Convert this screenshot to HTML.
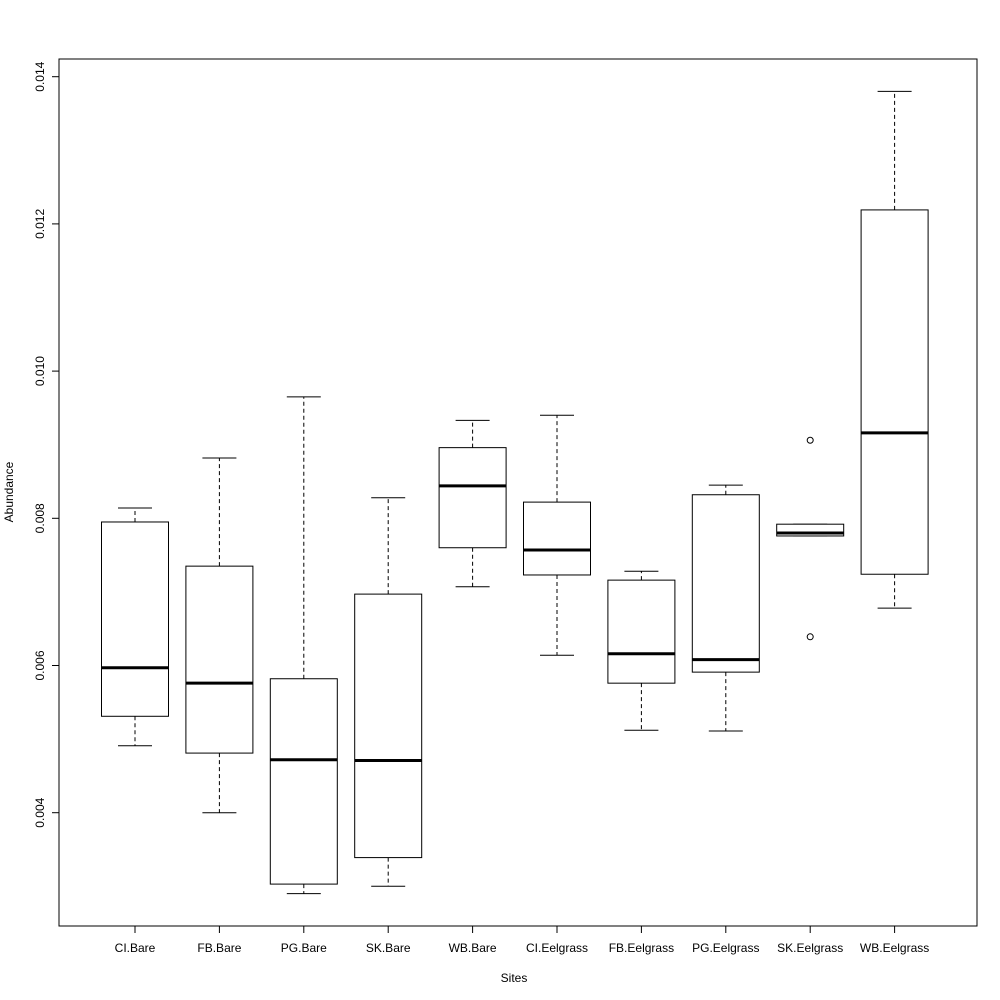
<!DOCTYPE html>
<html><head><meta charset="utf-8"><style>body{margin:0;background:#fff}svg{display:block;font-family:"Liberation Sans",Arial,sans-serif}</style></head>
<body>
<svg id="chart" width="1000" height="1000" viewBox="0 0 1000 1000"></svg>
<script>
const categories=["CI.Bare","FB.Bare","PG.Bare","SK.Bare","WB.Bare","CI.Eelgrass","FB.Eelgrass","PG.Eelgrass","SK.Eelgrass","WB.Eelgrass"];
const whiskerLow=[0.00491,0.00400,0.00290,0.00300,0.00707,0.00614,0.00512,0.00511,0.00776,0.00678];
const q1=[0.00531,0.00481,0.00303,0.00339,0.00760,0.00723,0.00576,0.00591,0.00776,0.00724];
const medians=[0.00597,0.00576,0.00472,0.00471,0.00844,0.00757,0.00616,0.00608,0.00780,0.00916];
const q3=[0.00795,0.00735,0.00582,0.00697,0.00896,0.00822,0.00716,0.00832,0.00792,0.01219];
const whiskerHigh=[0.00814,0.00882,0.00965,0.00828,0.00933,0.00940,0.00728,0.00845,0.00792,0.01380];
const outlierCat=[8,8];
const outlierVal=[0.00906,0.00639];
const yTicks=[0.004,0.006,0.008,0.010,0.012,0.014];
const yTickLabels=["0.004","0.006","0.008","0.010","0.012","0.014"];

const svg=document.getElementById('chart');
const NS='http://www.w3.org/2000/svg';
const L=59,R=977,T=59,B=926;
function y(v){return 812.7-(v-0.004)/0.002*147.2;}
function x(i){return 135+i*84.4;}
function mk(tag,attrs,name,parent){const e=document.createElementNS(NS,tag);for(const k in attrs)e.setAttribute(k,attrs[k]);


(parent||svg).appendChild(e);return e;}
mk('rect',{x:L,y:T,width:R-L,height:B-T,fill:'none',stroke:'#000','stroke-width':1},'plot-frame');
yTicks.forEach((t,i)=>{const yy=y(t);
mk('line',{x1:L-7,x2:L,y1:yy,y2:yy,stroke:'#000'},'y-tick');
const tx=mk('text',{x:44,y:yy,'font-size':12,'text-anchor':'middle',transform:`rotate(-90 44 ${yy})`},'y-tick-label');tx.textContent=yTickLabels[i];});
const yt=mk('text',{x:13,y:492,'font-size':12,'text-anchor':'middle',transform:'rotate(-90 13 492)'},'y-axis-title');yt.textContent='Abundance';
const xt=mk('text',{x:514,y:982,'font-size':12,'text-anchor':'middle'},'x-axis-title');xt.textContent='Sites';
const bw=67,cw=34;
categories.forEach((c,i)=>{const cx=x(i);
const g=mk('g',{},'box-'+c.toLowerCase().replace('.','-'));
mk('line',{x1:cx,x2:cx,y1:B,y2:B+7,stroke:'#000'},'x-tick',g);
const lb=mk('text',{x:cx,y:952,'font-size':12,'text-anchor':'middle'},'x-tick-label',g);lb.textContent=c;
mk('line',{x1:cx,x2:cx,y1:y(q3[i]),y2:y(whiskerHigh[i]),stroke:'#000','stroke-dasharray':'4,3'},'upper-whisker',g);
mk('line',{x1:cx,x2:cx,y1:y(q1[i]),y2:y(whiskerLow[i]),stroke:'#000','stroke-dasharray':'4,3'},'lower-whisker',g);
mk('line',{x1:cx-cw/2,x2:cx+cw/2,y1:y(whiskerHigh[i]),y2:y(whiskerHigh[i]),stroke:'#000'},'upper-cap',g);
mk('line',{x1:cx-cw/2,x2:cx+cw/2,y1:y(whiskerLow[i]),y2:y(whiskerLow[i]),stroke:'#000'},'lower-cap',g);
mk('rect',{x:cx-bw/2,y:y(q3[i]),width:bw,height:Math.max(0.5,y(q1[i])-y(q3[i])),fill:'#fff',stroke:'#000'},'iqr-box',g);
mk('line',{x1:cx-bw/2,x2:cx+bw/2,y1:y(medians[i]),y2:y(medians[i]),stroke:'#000','stroke-width':3},'median-line',g);
});
outlierVal.forEach((v,k)=>{mk('circle',{cx:x(outlierCat[k]),cy:y(v),r:3,fill:'none',stroke:'#000'},'outlier-point');});
</script>
</body></html>
